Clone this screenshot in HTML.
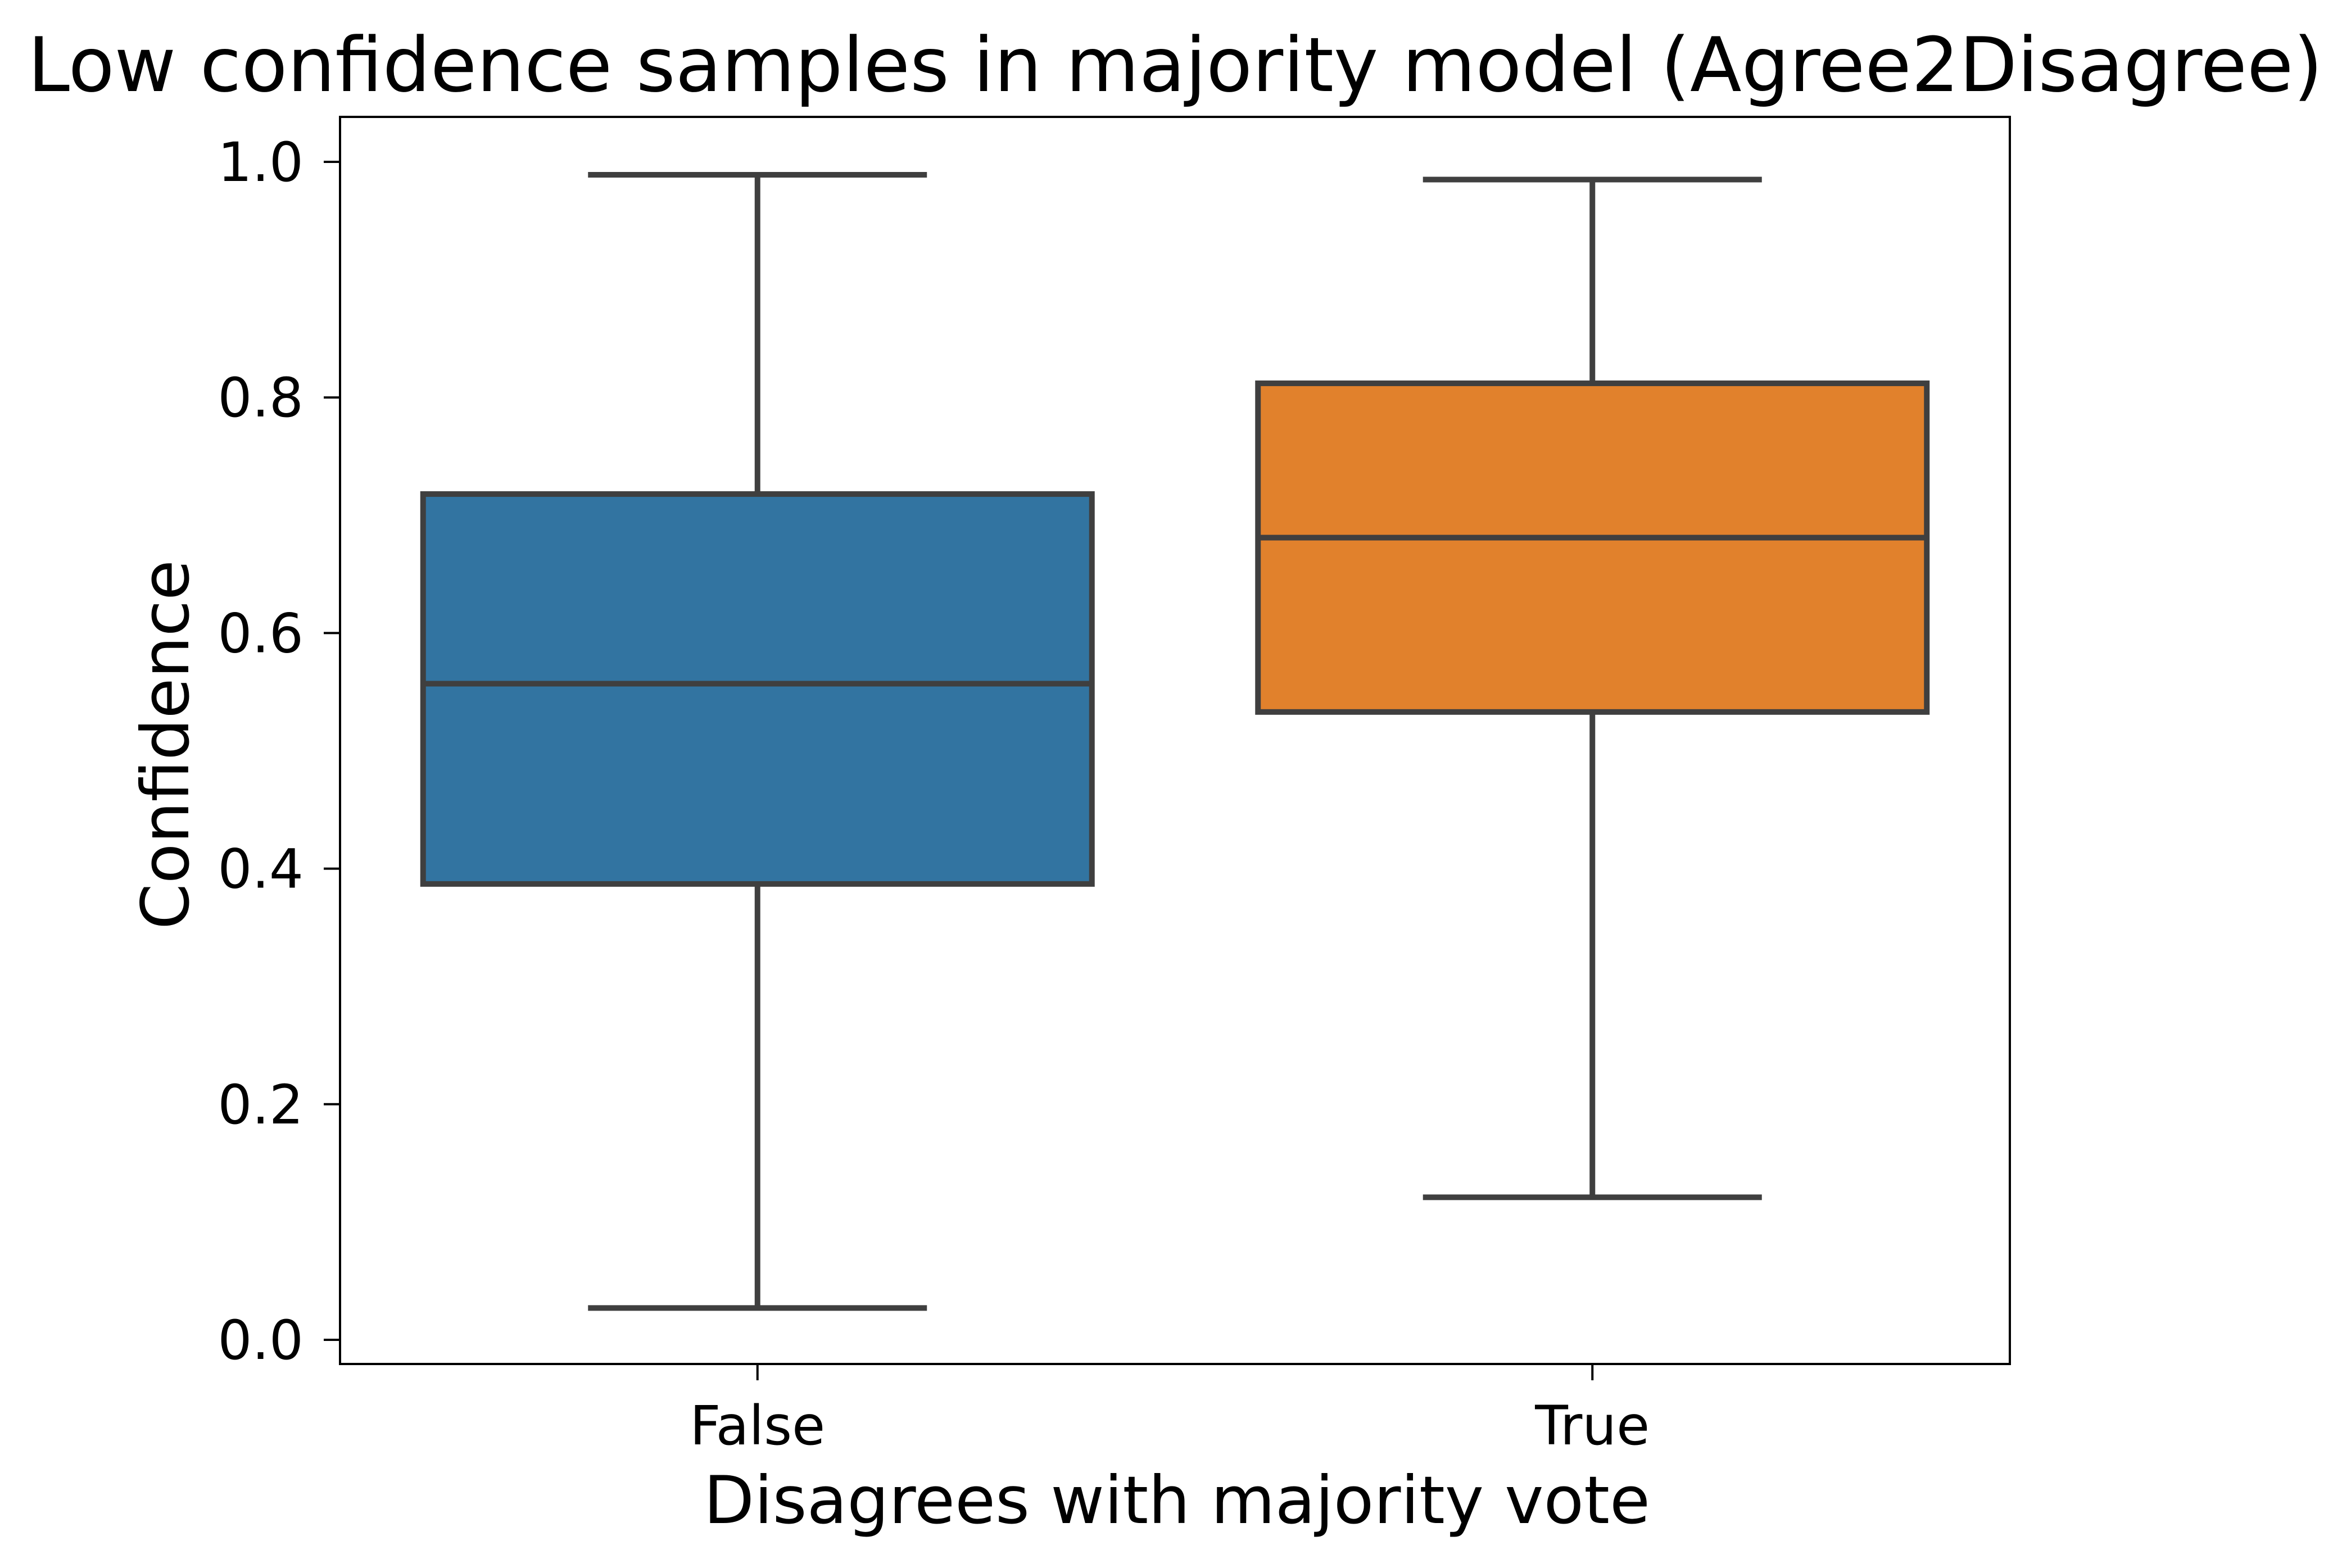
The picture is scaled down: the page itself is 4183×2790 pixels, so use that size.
<!DOCTYPE html>
<html><head><meta charset="utf-8"><style>
html,body{margin:0;padding:0;background:#fff;}
svg{display:block;font-family:"DejaVu Sans","Liberation Sans",sans-serif;}
</style></head><body>
<svg id="chart" width="4183" height="2790" viewBox="0 0 4183 2790" xmlns="http://www.w3.org/2000/svg">
<rect width="4183" height="2790" fill="#fff"/>
<text x="2091" y="162" font-size="134" text-anchor="middle" fill="#000">Low confidence samples in majority model (Agree2Disagree)</text>
<text x="2094" y="2710" font-size="117" text-anchor="middle" fill="#000">Disagrees with majority vote</text>
<text transform="translate(335,1325) rotate(-90)" font-size="117" text-anchor="middle" fill="#000">Confidence</text>
<g id="marks"></g>
<rect x="605" y="208" width="2971" height="2219" fill="none" stroke="#000" stroke-width="4"/>
</svg>
<script>
const categories = ["False", "True"];
const whiskerLow = [0.027, 0.121];
const q1Values = [0.387, 0.533];
const medianValues = [0.557, 0.681];
const q3Values = [0.718, 0.812];
const whiskerHigh = [0.989, 0.985];
const yTicks = [0.0, 0.2, 0.4, 0.6, 0.8, 1.0];
const yTickLabels = ["0.0", "0.2", "0.4", "0.6", "0.8", "1.0"];
const colors = ["#3274a1", "#e1812c"];

const NS = "http://www.w3.org/2000/svg";
const g = document.getElementById("marks");
function y(v){ return 2384 - v * (2384 - 288); }
function x(i){ const l = 605, w = 2971; return l + w * (i + 0.5) / categories.length; }
const boxW = 1190, capW = 603;
function el(tag, attrs){ const e = document.createElementNS(NS, tag); for (const k in attrs) e.setAttribute(k, attrs[k]); g.appendChild(e); return e; }

yTicks.forEach((t, i) => {
  const tk = el("line", {x1: 605, x2: 576, y1: y(t), y2: y(t), stroke: "#000", "stroke-width": 4});
  
  
  const lb = el("text", {x: 540, y: y(t) + 34, "font-size": 96, "text-anchor": "end", fill: "#000"});
  lb.textContent = yTickLabels[i];
  
  
});

categories.forEach((c, i) => {
  const cx = x(i), s = "#3f3f3f", sw = 10;
  const tk = el("line", {x1: cx, x2: cx, y1: 2427, y2: 2456, stroke: "#000", "stroke-width": 4});
  
  
  const lb = el("text", {x: cx, y: 2570, "font-size": 96, "text-anchor": "middle", fill: "#000"});
  lb.textContent = c;
  
  
  const wl = el("line", {x1: cx, x2: cx, y1: y(whiskerLow[i]), y2: y(q1Values[i]), stroke: s, "stroke-width": sw});
  
  
  const wh = el("line", {x1: cx, x2: cx, y1: y(q3Values[i]), y2: y(whiskerHigh[i]), stroke: s, "stroke-width": sw});
  
  
  const cl = el("line", {x1: cx - capW/2, x2: cx + capW/2, y1: y(whiskerLow[i]), y2: y(whiskerLow[i]), stroke: s, "stroke-width": sw});
  
  
  const ch = el("line", {x1: cx - capW/2, x2: cx + capW/2, y1: y(whiskerHigh[i]), y2: y(whiskerHigh[i]), stroke: s, "stroke-width": sw});
  
  
  const b = el("rect", {x: cx - boxW/2, y: y(q3Values[i]), width: boxW, height: y(q1Values[i]) - y(q3Values[i]), fill: colors[i], stroke: s, "stroke-width": sw});
  
  
  const m = el("line", {x1: cx - boxW/2, x2: cx + boxW/2, y1: y(medianValues[i]), y2: y(medianValues[i]), stroke: s, "stroke-width": sw});
  
  
});
</script>
</body></html>
